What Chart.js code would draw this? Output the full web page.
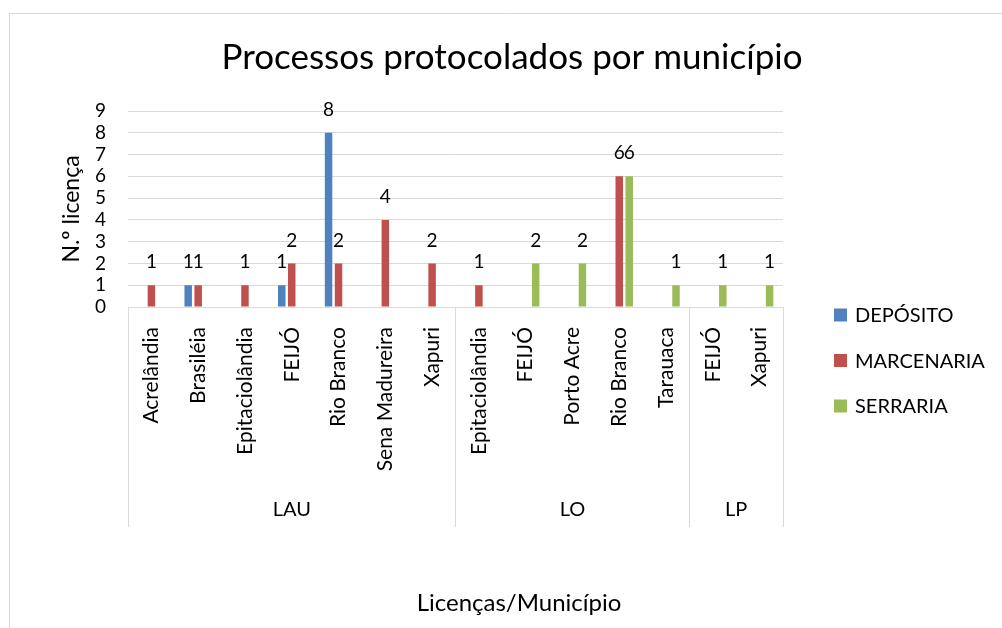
<!DOCTYPE html>
<html>
<head>
<meta charset="utf-8">
<title>Processos protocolados por município</title>
<script src="https://cdn.jsdelivr.net/npm/chart.js@4.4.0/dist/chart.umd.min.js"></script>
<style>
    html, body { margin: 0; padding: 0; background: #fff; }
    #wrap { width: 1002px; height: 628px; position: relative; }
</style>
</head>
<body>
<div id="wrap"><canvas id="bar-chart" width="1002" height="628"></canvas></div>
<script>
// categorias (município) e grupos (licença)
const municipios = ["Acrelândia", "Brasiléia", "Epitaciolândia", "FEIJÓ", "Rio Branco", "Sena Madureira", "Xapuri",
    "Epitaciolândia", "FEIJÓ", "Porto Acre", "Rio Branco", "Tarauaca",
    "FEIJÓ", "Xapuri"];
const licencas = ["LAU", "LO", "LP"];
const licencasQtd = [7, 5, 2];

// séries
const deposito   = [null, 1, null, 1, 8, null, null, null, null, null, null, null, null, null];
const marcenaria = [1, 1, 1, 2, 2, 4, 2, 1, null, null, 6, null, null, null];
const serraria   = [null, null, null, null, null, null, null, null, 2, 2, 6, 1, 1, 1];

const yTicks = [0, 1, 2, 3, 4, 5, 6, 7, 8, 9];

const FONT = "Lato, 'Open Sans', sans-serif";
const GRID = "#d9d9d9";

// fundo, moldura, linhas dos grupos, rótulos e legenda
const excelStuff = {
    id: 'excelStuff',
    beforeDraw: function(chart) {
        const ctx = chart.ctx;
        ctx.save();
        ctx.fillStyle = "#fff";
        ctx.fillRect(0, 0, chart.width, chart.height);
        ctx.strokeStyle = GRID;
        ctx.lineWidth = 1;
        ctx.beginPath();
        ctx.moveTo(9.5, chart.height);
        ctx.lineTo(9.5, 13.5);
        ctx.lineTo(chart.width, 13.5);
        ctx.stroke();
        ctx.restore();
    },
    afterDraw: function(chart) {
        const ctx = chart.ctx;
        const x = chart.scales.x;
        const w = x.getPixelForValue(1) - x.getPixelForValue(0);
        const top = chart.chartArea.bottom;
        ctx.save();

        // linhas e nomes dos grupos
        ctx.strokeStyle = GRID;
        ctx.lineWidth = 1;
        ctx.fillStyle = "#000";
        ctx.font = "20px " + FONT;
        ctx.textAlign = "center";
        ctx.textBaseline = "middle";
        let start = 0;
        for (let g = 0; g <= licencas.length; g++) {
            const px = Math.round(x.getPixelForValue(start) - w / 2) + 0.5;
            ctx.beginPath();
            ctx.moveTo(px, top);
            ctx.lineTo(px, top + 220);
            ctx.stroke();
            if (g < licencas.length) {
                const mid = (x.getPixelForValue(start) + x.getPixelForValue(start + licencasQtd[g] - 1)) / 2;
                ctx.fillText(licencas[g], mid, top + 203);
                start += licencasQtd[g];
            }
        }

        // título do eixo x (centrado no gráfico, como no Excel)
        ctx.font = "24px " + FONT;
        ctx.fillText("Licenças/Município", 519, 603);

        // rótulos de dados
        ctx.font = "19px " + FONT;
        chart.data.datasets.forEach(function(ds, i) {
            const meta = chart.getDatasetMeta(i);
            meta.data.forEach(function(bar, j) {
                if (ds.data[j] == null) return;
                ctx.fillText(String(ds.data[j]), bar.x, bar.y - 23);
            });
        });

        // legenda
        ctx.font = "20px " + FONT;
        ctx.textAlign = "left";
        chart.data.datasets.forEach(function(ds, i) {
            const cy = 315 + i * 45.5;
            ctx.fillStyle = ds.backgroundColor;
            ctx.fillRect(834, cy - 6.5, 13, 13);
            ctx.fillStyle = "#000";
            ctx.fillText(ds.label, 855, cy + 1);
        });
        ctx.restore();
    }
};

new Chart(document.getElementById("bar-chart"), {
    type: 'bar',
    data: {
        labels: municipios,
        datasets: [
            { label: "DEPÓSITO", backgroundColor: "#4f81bd", data: deposito },
            { label: "MARCENARIA", backgroundColor: "#c0504d", data: marcenaria },
            { label: "SERRARIA", backgroundColor: "#9bbb59", data: serraria }
        ]
    },
    options: {
        responsive: false,
        animation: false,
        layout: { padding: { left: 22, right: 0, top: 0, bottom: 0 } },
        datasets: { bar: { categoryPercentage: 0.64, barPercentage: 0.75 } },
        plugins: {
            legend: { display: false },
            tooltip: { enabled: false },
            title: {
                display: true,
                text: 'Processos protocolados por município',
                color: '#000',
                font: { family: FONT, size: 35, weight: 'normal' },
                padding: { top: 37, bottom: 32 }
            }
        },
        scales: {
            x: {
                grid: { display: false, drawTicks: false },
                border: { display: true, color: GRID },
                ticks: {
                    autoSkip: false, minRotation: 90, maxRotation: 90,
                    color: '#000', padding: 20,
                    font: { family: FONT, size: 21 }
                },
                afterFit: function(scale) { scale.height = 321; }
            },
            y: {
                min: 0, max: 9,
                grid: { color: GRID, drawTicks: false },
                border: { display: false },
                afterBuildTicks: function(scale) {
                    scale.ticks = yTicks.map(function(v) { return { value: v }; });
                },
                ticks: { autoSkip: false, color: '#000', padding: 22, font: { family: FONT, size: 19 } },
                title: {
                    display: true, text: 'N.º licença', color: '#000',
                    font: { family: FONT, size: 23 },
                    padding: { top: 36, bottom: 0 }
                },
                afterFit: function(scale) { scale.width = 106; }
            },
            // espaço reservado para a legenda
            legendSpace: {
                type: 'linear', position: 'right', display: true,
                grid: { display: false, drawTicks: false },
                border: { display: false },
                ticks: { display: false },
                afterFit: function(scale) { scale.width = 219; }
            }
        }
    },
    plugins: [excelStuff]
});
</script>
</body>
</html>
